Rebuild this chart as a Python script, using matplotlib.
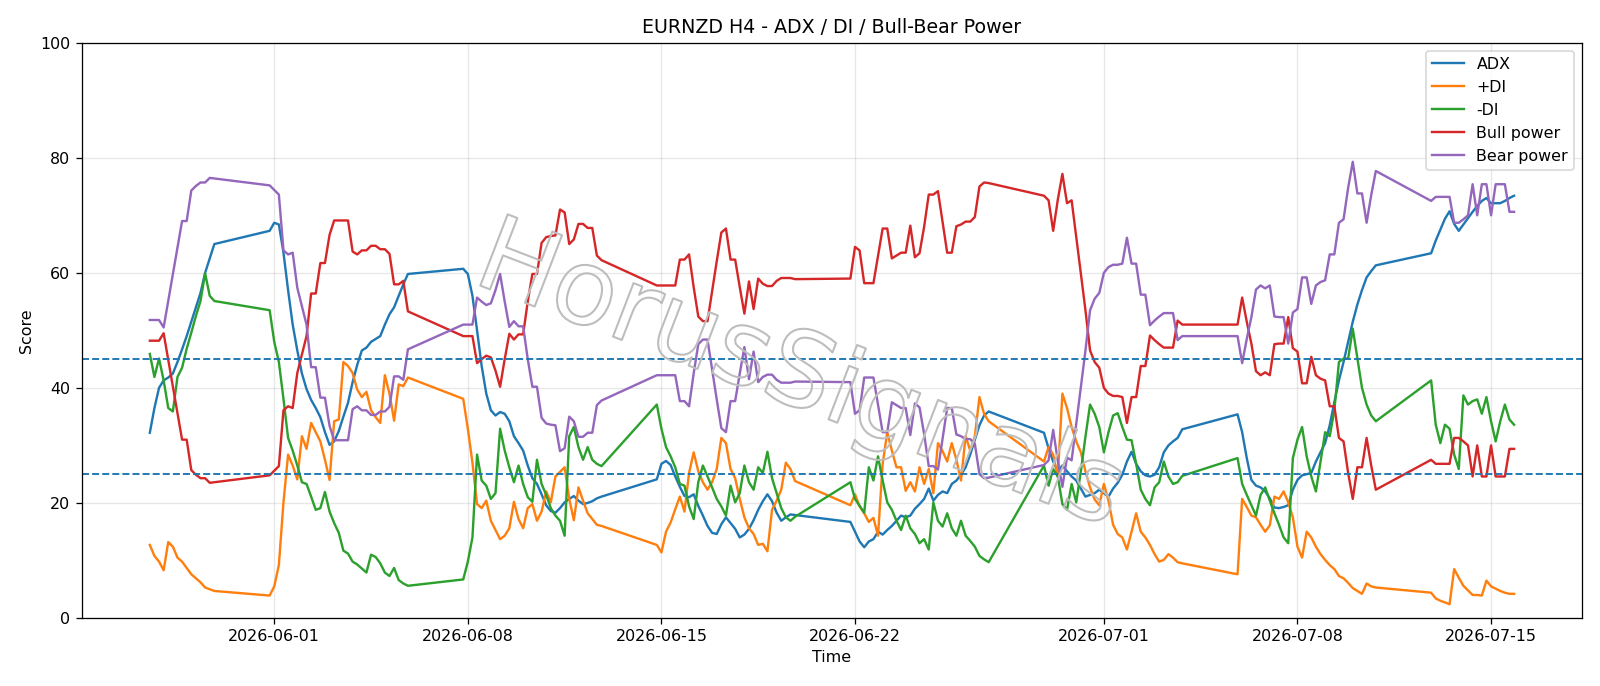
import numpy as np
import pandas as pd
import matplotlib
matplotlib.use("Agg")
import matplotlib.pyplot as plt
import matplotlib.patheffects as pe

# H4 bars, sessions separated by weekend gaps
segment_starts = ["2026-05-27 12:00", "2026-05-31 20:00", "2026-06-07 20:00", "2026-06-14 20:00",
                  "2026-06-21 20:00", "2026-06-28 20:00", "2026-07-05 20:00", "2026-07-12 20:00"]
segment_bars = [15, 31, 31, 31, 31, 31, 31, 19]

adx = [
    32.2, 36.5, 40.0, 41.3, 41.8, 42.5, 44.5, 46.7, 49.0, 51.5, 54.0, 56.5, 60.0, 62.5, 65.0,
    67.3, 68.7, 68.4, 63.5, 57.0, 51.0, 46.5, 42.5, 39.8, 37.9, 36.5, 34.9, 32.3, 30.1, 30.7, 32.5, 35.0, 37.4, 41.0,
    44.0, 46.5, 47.0, 48.0, 48.5, 49.0, 51.0, 52.8, 54.0, 56.0, 58.0, 59.8,
    60.7, 59.8, 56.0, 50.0, 43.8, 39.0, 36.1, 35.2, 35.8, 35.5, 34.2, 31.6, 30.4, 29.1, 26.5, 24.3, 23.3, 21.5, 19.6,
    18.6, 18.3, 19.1, 20.1, 20.7, 21.2, 20.4, 19.8, 20.0, 20.3, 20.8, 21.1,
    24.1, 26.8, 27.3, 26.6, 24.6, 22.8, 21.2, 21.0, 21.5, 19.5, 17.8, 16.0, 14.8, 14.6, 16.3, 17.5, 16.5, 15.5, 14.0,
    14.5, 15.5, 17.0, 18.8, 20.3, 21.5, 20.3, 18.3, 16.9, 17.5, 18.0, 17.9,
    16.7, 15.0, 13.3, 12.3, 13.3, 13.7, 15.0, 14.5, 15.3, 16.0, 16.9, 17.8, 17.5, 17.8, 19.0, 19.8, 20.7, 22.5, 20.4,
    21.4, 22.0, 21.7, 23.3, 23.9, 24.9, 26.2, 28.4, 31.0, 33.5, 35.2, 35.9,
    32.2, 29.5, 27.2, 25.5, 26.5, 25.5, 24.6, 23.9, 22.5, 21.1, 21.4, 21.7, 22.3, 21.7, 21.1, 22.5, 23.5, 24.9, 27.2,
    28.9, 26.8, 25.5, 24.8, 24.6, 24.9, 26.2, 28.8, 30.0, 30.7, 31.3, 32.8,
    35.4, 32.3, 27.8, 24.0, 23.0, 22.7, 22.0, 20.8, 19.2, 19.1, 19.3, 19.6, 22.3, 24.0, 24.8, 25.0, 25.2, 27.2, 28.8,
    30.4, 33.5, 37.5, 41.3, 44.5, 48.0, 51.5, 54.5, 57.0, 59.2, 60.3, 61.3,
    63.4, 65.6, 67.5, 69.4, 70.7, 68.5, 67.3, 68.4, 69.5, 70.6, 71.6, 72.5, 73.0, 72.1, 72.1, 72.1, 72.5, 73.0, 73.4,
]

plus_di = [
    12.7, 10.8, 9.8, 8.3, 13.2, 12.4, 10.5, 9.8, 8.7, 7.6, 6.9, 6.2, 5.3, 5.0, 4.7,
    3.9, 5.5, 9.2, 20.1, 28.4, 26.5, 24.1, 31.6, 29.4, 33.9, 32.3, 30.7, 27.5, 24.0, 34.2, 34.5, 44.5, 43.8, 42.6,
    39.7, 38.4, 39.3, 36.1, 34.9, 33.9, 42.2, 39.0, 34.3, 40.6, 40.3, 41.8,
    38.1, 32.9, 27.0, 19.8, 19.1, 20.4, 16.9, 15.3, 13.7, 14.3, 15.6, 20.2, 17.2, 15.6, 19.1, 19.8, 16.9, 18.5, 22.0,
    20.1, 24.6, 25.4, 26.2, 20.7, 17.0, 22.7, 20.4, 18.2, 17.2, 16.2, 16.0,
    12.7, 11.4, 15.0, 16.6, 18.9, 21.1, 18.5, 25.2, 28.8, 25.5, 23.6, 22.3, 23.6, 25.9, 31.3, 30.4, 25.9, 24.3, 20.7,
    17.5, 15.6, 14.6, 12.7, 12.9, 11.6, 18.8, 20.4, 22.3, 27.0, 25.9, 23.8,
    19.6, 21.5, 19.4, 18.2, 16.7, 17.4, 14.3, 26.8, 32.3, 29.1, 26.2, 26.2, 22.1, 23.6, 22.0, 26.2, 23.3, 25.9, 21.7,
    30.4, 29.0, 27.2, 30.4, 27.5, 23.9, 31.6, 29.1, 31.6, 38.4, 35.5, 34.2,
    27.2, 29.7, 28.4, 24.6, 39.0, 36.5, 33.2, 30.7, 28.8, 25.5, 22.7, 20.6, 19.6, 23.3, 20.4, 16.2, 14.6, 14.0, 11.9,
    15.0, 18.2, 15.0, 14.0, 12.7, 11.1, 9.8, 10.1, 11.1, 10.5, 9.7, 9.5,
    7.6, 20.7, 19.3, 17.8, 17.5, 16.2, 15.0, 16.1, 21.1, 20.7, 22.0, 20.1, 17.5, 12.4, 10.5, 15.0, 14.0, 12.4, 11.1,
    10.1, 9.2, 8.5, 7.3, 6.9, 6.1, 5.2, 4.7, 4.2, 6.0, 5.5, 5.3,
    4.4, 3.4, 3.0, 2.7, 2.4, 8.5, 7.0, 5.6, 4.8, 4.0, 4.0, 3.9, 6.5, 5.5, 5.1, 4.7, 4.4, 4.2, 4.2,
]

minus_di = [
    45.9, 41.9, 45.1, 41.3, 36.5, 35.9, 41.9, 43.5, 46.8, 49.6, 52.5, 55.1, 59.9, 56.0, 55.1,
    53.5, 48.0, 44.5, 38.1, 31.3, 29.1, 26.5, 23.6, 23.3, 21.1, 18.8, 19.1, 21.9, 18.5, 16.5, 14.8, 11.7, 11.2, 9.8,
    9.3, 8.6, 7.9, 11.0, 10.6, 9.5, 7.9, 7.3, 8.7, 6.6, 6.0, 5.6,
    6.7, 9.8, 14.0, 28.4, 23.9, 23.0, 20.7, 21.7, 32.9, 29.1, 26.2, 23.6, 26.5, 23.3, 21.0, 20.2, 27.5, 23.3, 21.4,
    19.1, 17.8, 16.9, 14.3, 31.6, 33.2, 29.7, 27.5, 29.7, 27.5, 26.8, 26.4,
    37.1, 32.9, 29.7, 28.1, 26.2, 23.3, 23.0, 19.4, 17.2, 23.6, 26.5, 24.6, 22.7, 20.7, 19.4, 17.8, 23.0, 20.1, 21.7,
    26.5, 23.6, 22.3, 26.2, 25.2, 28.9, 24.3, 21.7, 19.1, 17.5, 16.9, 17.6,
    23.6, 20.7, 19.5, 18.3, 26.2, 23.9, 28.1, 23.9, 20.1, 18.8, 16.9, 15.3, 17.8, 15.6, 14.6, 13.0, 13.7, 11.9, 20.1,
    16.9, 15.9, 18.2, 15.6, 14.3, 16.9, 14.3, 13.4, 12.4, 10.8, 10.2, 9.7,
    26.5, 23.0, 25.9, 24.6, 19.8, 18.8, 23.3, 20.1, 25.5, 31.5, 37.1, 35.5, 33.2, 28.8, 32.3, 35.2, 35.6, 33.2, 31.0,
    30.9, 26.8, 22.3, 20.7, 19.6, 22.7, 23.6, 27.2, 24.6, 23.3, 23.6, 24.7,
    27.8, 23.3, 21.4, 19.6, 17.8, 21.4, 22.7, 20.4, 18.2, 16.2, 14.0, 13.0, 27.8, 31.0, 33.2, 28.1, 24.6, 22.0, 27.2,
    32.3, 31.6, 36.1, 44.5, 45.1, 45.1, 50.3, 45.1, 40.0, 37.1, 35.2, 34.2,
    41.3, 33.6, 30.4, 33.6, 32.9, 28.4, 25.9, 38.7, 37.1, 37.7, 38.0, 35.5, 38.4, 34.2, 30.7, 34.2, 37.1, 34.5, 33.6,
]

bull_power = [
    48.2, 48.2, 48.2, 49.5, 44.9, 40.3, 35.6, 31.0, 31.0, 25.7, 24.9, 24.3, 24.3, 23.5, 23.6,
    24.8, 25.6, 26.4, 36.1, 36.8, 36.5, 42.6, 45.8, 49.0, 56.4, 56.4, 61.7, 61.7, 66.6, 69.1, 69.1, 69.1, 69.1, 63.7,
    63.2, 63.9, 63.9, 64.7, 64.7, 64.1, 64.1, 63.3, 58.0, 58.0, 58.6, 53.3,
    49.0, 49.0, 49.0, 44.3, 45.0, 45.6, 45.3, 43.0, 40.2, 45.0, 49.4, 48.4, 49.3, 49.3, 55.0, 59.8, 59.8, 65.2, 66.2,
    66.4, 66.5, 71.0, 70.5, 65.0, 65.8, 68.5, 68.5, 67.8, 67.8, 63.0, 62.2,
    57.8, 57.8, 57.8, 57.8, 57.8, 62.3, 62.3, 63.2, 57.5, 52.4, 51.6, 51.6, 56.8, 62.0, 67.0, 67.7, 62.3, 62.3, 57.5,
    52.9, 58.5, 53.7, 59.0, 58.1, 57.7, 57.7, 58.6, 59.1, 59.1, 59.1, 58.9,
    59.0, 64.5, 63.9, 58.2, 58.2, 58.2, 63.0, 67.7, 67.7, 62.5, 63.0, 63.5, 63.5, 68.2, 62.7, 63.4, 68.0, 73.6, 73.6,
    74.2, 68.8, 63.5, 63.5, 68.1, 68.4, 68.9, 68.9, 69.7, 75.0, 75.7, 75.6,
    73.4, 72.6, 67.3, 72.7, 77.2, 72.1, 72.6, 66.3, 59.9, 53.5, 46.5, 44.5, 43.5, 40.0, 39.0, 38.6, 38.6, 38.4, 33.9,
    38.4, 38.4, 43.8, 43.8, 49.1, 48.3, 47.6, 47.0, 47.0, 47.0, 51.7, 51.0,
    51.0, 55.7, 51.5, 47.7, 42.9, 42.2, 42.7, 42.2, 47.6, 47.7, 47.7, 52.3, 46.9, 46.3, 40.8, 40.8, 45.4, 42.2, 41.6,
    41.3, 36.8, 36.8, 31.3, 30.7, 25.2, 20.7, 26.2, 26.2, 31.3, 26.5, 22.3,
    27.5, 26.8, 26.8, 26.8, 26.8, 31.3, 31.3, 30.7, 30.0, 24.6, 30.0, 24.6, 24.6, 30.0, 24.6, 24.6, 24.6, 29.4, 29.4,
]

bear_power = [
    51.8, 51.8, 51.8, 50.5, 55.1, 59.7, 64.4, 69.0, 69.0, 74.3, 75.1, 75.7, 75.7, 76.5, 76.4,
    75.2, 74.4, 73.6, 63.9, 63.2, 63.5, 57.4, 54.2, 51.0, 43.6, 43.6, 38.3, 38.3, 33.4, 30.9, 30.9, 30.9, 30.9, 36.3,
    36.8, 36.1, 36.1, 35.3, 35.3, 35.9, 35.9, 36.7, 42.0, 42.0, 41.4, 46.7,
    51.0, 51.0, 51.0, 55.7, 55.0, 54.4, 54.7, 57.0, 59.8, 55.0, 50.6, 51.6, 50.7, 50.7, 45.0, 40.2, 40.2, 34.8, 33.8,
    33.6, 33.5, 29.0, 29.5, 35.0, 34.2, 31.5, 31.5, 32.2, 32.2, 37.0, 37.8,
    42.2, 42.2, 42.2, 42.2, 42.2, 37.7, 37.7, 36.8, 42.5, 47.6, 48.4, 48.4, 43.2, 38.0, 33.0, 32.3, 37.7, 37.7, 42.5,
    47.1, 41.5, 46.3, 41.0, 41.9, 42.3, 42.3, 41.4, 40.9, 40.9, 40.9, 41.1,
    41.0, 35.5, 36.1, 41.8, 41.8, 41.8, 37.0, 32.3, 32.3, 37.5, 37.0, 36.5, 36.5, 31.8, 37.3, 36.6, 32.0, 26.4, 26.4,
    25.8, 31.2, 36.5, 36.5, 31.9, 31.6, 31.1, 31.1, 30.3, 25.0, 24.3, 24.4,
    26.6, 27.4, 32.7, 27.3, 22.8, 27.9, 27.4, 33.7, 40.1, 46.5, 53.5, 55.5, 56.5, 60.0, 61.0, 61.4, 61.4, 61.6, 66.1,
    61.6, 61.6, 56.2, 56.2, 50.9, 51.7, 52.4, 53.0, 53.0, 53.0, 48.3, 49.0,
    49.0, 44.3, 48.5, 52.3, 57.1, 57.8, 57.3, 57.8, 52.4, 52.3, 52.3, 47.7, 53.1, 53.7, 59.2, 59.2, 54.6, 57.8, 58.4,
    58.7, 63.2, 63.2, 68.7, 69.3, 74.8, 79.3, 73.8, 73.8, 68.7, 73.5, 77.7,
    72.5, 73.2, 73.2, 73.2, 73.2, 68.7, 68.7, 69.3, 70.0, 75.4, 70.0, 75.4, 75.4, 70.0, 75.4, 75.4, 75.4, 70.6, 70.6,
]

threshold_levels = [25, 45]

times = pd.DatetimeIndex(np.concatenate(
    [pd.date_range(s, periods=n, freq="4h").values for s, n in zip(segment_starts, segment_bars)]))

DPI = 1600 / 14
fig = plt.figure(figsize=(14, 6.0025), dpi=DPI)
ax = fig.add_axes([81.6 / 1600, 1 - 618 / 686, 1500.7 / 1600, 575.3 / 686])

ax.plot(times, adx, color="C0", label="ADX")
ax.plot(times, plus_di, color="C1", label="+DI")
ax.plot(times, minus_di, color="C2", label="-DI")
ax.plot(times, bull_power, color="C3", label="Bull power")
ax.plot(times, bear_power, color="C4", label="Bear power")
for lvl in threshold_levels:
    ax.axhline(lvl, color="C0", ls="--", lw=1.2)

ax.set_ylim(0, 100)
ax.set_title("EURNZD H4 - ADX / DI / Bull-Bear Power")
ax.set_xlabel("Time")
ax.set_ylabel("Score")
ax.grid(True, alpha=0.3)
ax.legend(loc="upper right")

fig.text(0.50, 0.45, "HorusSignals", fontsize=66, rotation=-21, ha="center", va="center",
         color="none", path_effects=[pe.withStroke(linewidth=1.3, foreground="#bdbdbd")], zorder=1)

fig.savefig("out.png", dpi=DPI)
